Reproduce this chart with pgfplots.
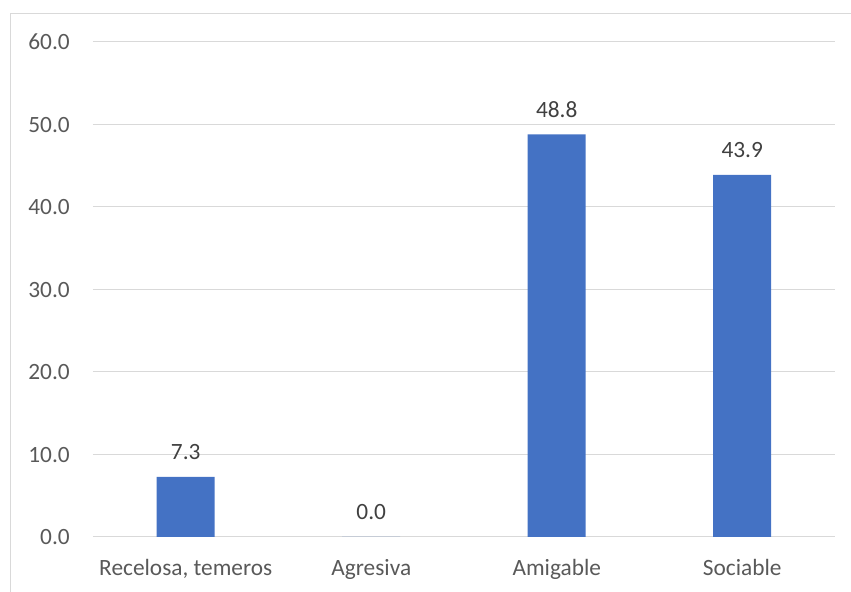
\documentclass[border=0pt]{standalone}
\usepackage{fontspec}
\setmainfont{Carlito}
\usepackage{pgfplots}
\pgfplotsset{compat=1.18}
\definecolor{barblue}{HTML}{4472C4}
\definecolor{gridgray}{HTML}{D9D9D9}
\definecolor{labgray}{HTML}{595959}
\definecolor{datgray}{HTML}{404040}
\begin{document}
\begin{tikzpicture}
\useasboundingbox (-69.75pt,-41.25pt) rectangle (568.5pt,402.75pt);
\draw[gridgray, line width=0.75pt] (-61.5pt,-41.25pt) -- (-61.5pt,392.25pt) -- (568.5pt,392.25pt);
\begin{axis}[
  at={(0pt,0pt)}, anchor=south west,
  scale only axis,
  width=556.5pt, height=371.25pt,
  ybar, bar width=43.5pt,
  xmin=-0.5, xmax=3.5,
  ymin=0, ymax=60,
  xtick=data,
  xticklabels={{Recelosa, temeros},Agresiva,Amigable,Sociable},
  ytick={0,10,20,30,40,50,60},
  axis line style={draw=none},
  major tick length=0pt,
  ymajorgrids,
  grid style={gridgray, line width=0.75pt},
  font=\fontsize{17.5pt}{21pt}\selectfont,
  /pgf/number format/assume math mode=true,
  yticklabel={\pgfmathprintnumber[fixed,fixed zerofill,precision=1]{\tick}},
  yticklabel style={anchor=base east, inner sep=0pt, xshift=-17.25pt, yshift=-6pt, text=labgray},
  xticklabel style={anchor=base, inner sep=0pt, yshift=-29.25pt, text=labgray},
  nodes near coords={\pgfmathprintnumber[fixed,fixed zerofill,precision=1]{\pgfplotspointmeta}},
  nodes near coords style={anchor=base, inner sep=0pt, yshift=12.75pt, text=datgray, font=\fontsize{17.5pt}{21pt}\selectfont},
]
\addplot[fill=barblue, draw=none] coordinates {(0,7.3) (1,0.0) (2,48.8) (3,43.9)};
\end{axis}
\end{tikzpicture}
\end{document}
